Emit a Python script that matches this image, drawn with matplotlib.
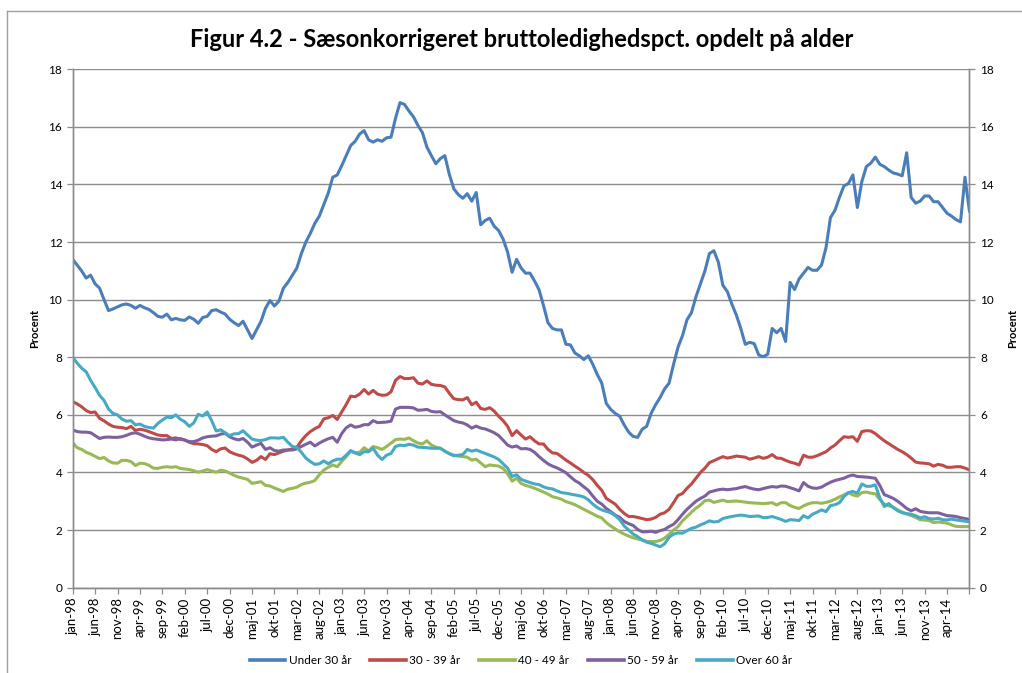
import numpy as np
import matplotlib
matplotlib.use("Agg")
import matplotlib.pyplot as plt
from matplotlib.lines import Line2D

plt.rcParams["font.family"] = ["Lato", "DejaVu Sans"]

TITLE = "Figur 4.2 - Sæsonkorrigeret bruttoledighedspct. opdelt på alder"

# Monthly values, jan-98 .. sep-14 (201 months)
UNDER_30 = [
    11.40, 11.20, 11.00, 10.75, 10.85, 10.55, 10.40, 10.00, 9.62, 9.68,
    9.75, 9.82, 9.85, 9.80, 9.70, 9.80, 9.72, 9.66, 9.55, 9.42,
    9.39, 9.50, 9.30, 9.35, 9.30, 9.28, 9.40, 9.32, 9.18, 9.38,
    9.42, 9.62, 9.65, 9.57, 9.50, 9.32, 9.20, 9.10, 9.25, 8.95,
    8.65, 8.95, 9.25, 9.70, 9.97, 9.78, 9.95, 10.40, 10.60, 10.85,
    11.10, 11.60, 12.00, 12.30, 12.65, 12.90, 13.30, 13.70, 14.25, 14.33,
    14.65, 15.00, 15.35, 15.50, 15.75, 15.87, 15.55, 15.47, 15.55, 15.50,
    15.62, 15.64, 16.30, 16.84, 16.78, 16.55, 16.35, 16.05, 15.80, 15.30,
    15.00, 14.72, 14.90, 15.00, 14.35, 13.85, 13.65, 13.52, 13.68, 13.42,
    13.72, 12.60, 12.75, 12.83, 12.55, 12.40, 12.10, 11.65, 10.95, 11.40,
    11.10, 10.92, 10.92, 10.65, 10.35, 9.80, 9.20, 9.00, 8.95, 8.95,
    8.45, 8.43, 8.15, 8.05, 7.92, 8.05, 7.75, 7.40, 7.10, 6.40,
    6.19, 6.05, 5.95, 5.65, 5.40, 5.25, 5.22, 5.50, 5.60, 6.05,
    6.35, 6.60, 6.90, 7.10, 7.75, 8.35, 8.75, 9.30, 9.55, 10.10,
    10.55, 11.00, 11.60, 11.70, 11.30, 10.50, 10.28, 9.85, 9.47, 9.00,
    8.45, 8.52, 8.47, 8.08, 8.02, 8.10, 9.00, 8.85, 9.00, 8.55,
    10.60, 10.35, 10.72, 10.92, 11.12, 11.02, 11.02, 11.20, 11.80, 12.85,
    13.10, 13.55, 13.95, 14.03, 14.33, 13.20, 14.10, 14.62, 14.74, 14.95,
    14.70, 14.62, 14.50, 14.40, 14.36, 14.30, 15.10, 13.55, 13.35, 13.42,
    13.60, 13.60, 13.40, 13.40, 13.20, 13.00, 12.90, 12.78, 12.70, 14.25,
    13.06,
]

AGE_30_39 = [
    6.46, 6.38, 6.28, 6.15, 6.08, 6.10, 5.88, 5.79, 5.68, 5.60,
    5.57, 5.56, 5.52, 5.60, 5.46, 5.50, 5.47, 5.42, 5.36, 5.30,
    5.28, 5.28, 5.18, 5.20, 5.15, 5.13, 5.05, 5.00, 4.99, 4.97,
    4.93, 4.80, 4.72, 4.82, 4.85, 4.72, 4.65, 4.60, 4.56, 4.47,
    4.35, 4.42, 4.55, 4.45, 4.65, 4.62, 4.68, 4.74, 4.78, 4.81,
    4.87, 5.10, 5.28, 5.42, 5.52, 5.60, 5.86, 5.90, 5.98, 5.84,
    6.10, 6.36, 6.65, 6.63, 6.72, 6.88, 6.72, 6.85, 6.72, 6.68,
    6.69, 6.80, 7.20, 7.33, 7.26, 7.26, 7.29, 7.10, 7.07, 7.18,
    7.06, 7.03, 7.02, 6.97, 6.75, 6.56, 6.53, 6.52, 6.60, 6.35,
    6.44, 6.22, 6.19, 6.25, 6.13, 5.95, 5.80, 5.60, 5.28, 5.45,
    5.30, 5.16, 5.24, 5.10, 4.99, 4.99, 4.80, 4.68, 4.66, 4.55,
    4.43, 4.33, 4.22, 4.12, 4.00, 3.90, 3.75, 3.55, 3.38, 3.10,
    3.00, 2.90, 2.72, 2.58, 2.47, 2.47, 2.44, 2.40, 2.36, 2.38,
    2.44, 2.55, 2.60, 2.72, 2.95, 3.20, 3.27, 3.45, 3.60, 3.80,
    4.00, 4.15, 4.34, 4.41, 4.48, 4.55, 4.50, 4.53, 4.57, 4.55,
    4.53, 4.46, 4.50, 4.55, 4.49, 4.53, 4.62, 4.50, 4.49, 4.42,
    4.36, 4.32, 4.26, 4.60, 4.53, 4.53, 4.58, 4.65, 4.72, 4.85,
    4.95, 5.10, 5.24, 5.22, 5.24, 5.08, 5.42, 5.45, 5.44, 5.35,
    5.22, 5.10, 5.00, 4.90, 4.80, 4.72, 4.62, 4.50, 4.36, 4.33,
    4.32, 4.30, 4.22, 4.28, 4.25, 4.18, 4.18, 4.20, 4.20, 4.15,
    4.09,
]

AGE_40_49 = [
    5.03, 4.86, 4.80, 4.70, 4.64, 4.56, 4.48, 4.52, 4.40, 4.33,
    4.32, 4.42, 4.42, 4.38, 4.24, 4.32, 4.31, 4.25, 4.15, 4.14,
    4.18, 4.20, 4.18, 4.20, 4.14, 4.12, 4.10, 4.06, 4.01, 4.05,
    4.10, 4.05, 4.01, 4.08, 4.05, 3.98, 3.90, 3.84, 3.80, 3.76,
    3.62, 3.65, 3.68, 3.55, 3.53, 3.46, 3.40, 3.34, 3.42, 3.45,
    3.49, 3.58, 3.63, 3.66, 3.72, 3.92, 4.08, 4.18, 4.26, 4.20,
    4.38, 4.55, 4.74, 4.68, 4.70, 4.86, 4.75, 4.90, 4.86, 4.80,
    4.90, 5.02, 5.14, 5.16, 5.15, 5.20, 5.10, 5.02, 4.99, 5.10,
    4.95, 4.88, 4.84, 4.74, 4.66, 4.60, 4.57, 4.55, 4.53, 4.43,
    4.46, 4.33, 4.20, 4.26, 4.24, 4.22, 4.14, 3.95, 3.70, 3.80,
    3.62, 3.55, 3.51, 3.45, 3.39, 3.32, 3.25, 3.16, 3.12, 3.07,
    2.99, 2.94, 2.88, 2.80, 2.72, 2.64, 2.56, 2.48, 2.42, 2.26,
    2.14, 2.04, 1.94, 1.86, 1.79, 1.73, 1.69, 1.65, 1.61, 1.60,
    1.60, 1.64, 1.72, 1.85, 2.00, 2.12, 2.32, 2.47, 2.62, 2.76,
    2.87, 3.02, 3.04, 2.96, 3.00, 3.04, 2.99, 3.00, 3.01, 2.99,
    2.97, 2.95, 2.94, 2.93, 2.92, 2.93, 2.95, 2.87, 2.95, 2.95,
    2.85, 2.79, 2.75, 2.84, 2.91, 2.95, 2.95, 2.93, 2.96, 3.00,
    3.07, 3.15, 3.22, 3.30, 3.22, 3.18, 3.30, 3.32, 3.28, 3.26,
    3.06, 2.90, 2.84, 2.80, 2.70, 2.62, 2.56, 2.50, 2.44, 2.36,
    2.35, 2.33, 2.26, 2.28, 2.26, 2.24, 2.18, 2.13, 2.12, 2.12,
    2.12,
]

AGE_50_59 = [
    5.48, 5.42, 5.40, 5.40, 5.38, 5.28, 5.18, 5.22, 5.23, 5.22,
    5.22, 5.24, 5.29, 5.35, 5.38, 5.33, 5.26, 5.20, 5.17, 5.15,
    5.13, 5.14, 5.16, 5.13, 5.18, 5.12, 5.07, 5.07, 5.12, 5.20,
    5.24, 5.26, 5.27, 5.33, 5.36, 5.24, 5.17, 5.13, 5.18, 5.05,
    4.88, 4.95, 5.01, 4.80, 4.86, 4.76, 4.74, 4.78, 4.78, 4.78,
    4.82, 4.90, 4.98, 5.05, 4.92, 5.02, 5.10, 5.17, 5.22, 5.05,
    5.35, 5.55, 5.65, 5.57, 5.60, 5.66, 5.66, 5.80, 5.73, 5.74,
    5.75, 5.78, 6.20, 6.26, 6.26, 6.26, 6.24, 6.16, 6.17, 6.19,
    6.12, 6.10, 6.11, 6.00, 5.90, 5.80, 5.75, 5.72, 5.65, 5.54,
    5.61, 5.54, 5.51, 5.45, 5.38, 5.28, 5.12, 4.95, 4.88, 4.92,
    4.82, 4.83, 4.80, 4.70, 4.55, 4.42, 4.30, 4.22, 4.16, 4.08,
    3.99, 3.85, 3.72, 3.63, 3.50, 3.38, 3.18, 3.00, 2.90, 2.75,
    2.64, 2.52, 2.44, 2.30, 2.22, 2.16, 2.02, 1.94, 1.94, 1.96,
    1.92, 1.98, 2.02, 2.12, 2.20, 2.36, 2.55, 2.72, 2.86, 3.00,
    3.10, 3.18, 3.32, 3.36, 3.40, 3.42, 3.40, 3.42, 3.44, 3.48,
    3.51, 3.46, 3.42, 3.40, 3.44, 3.48, 3.51, 3.49, 3.53, 3.52,
    3.47, 3.42, 3.36, 3.65, 3.52, 3.46, 3.45, 3.49, 3.58, 3.66,
    3.72, 3.76, 3.80, 3.87, 3.91, 3.86, 3.85, 3.84, 3.82, 3.80,
    3.55, 3.23, 3.17, 3.10, 3.00, 2.88, 2.75, 2.67, 2.74, 2.65,
    2.62, 2.60, 2.60, 2.60, 2.55, 2.50, 2.49, 2.47, 2.43, 2.40,
    2.37,
]

OVER_60 = [
    8.00, 7.80, 7.62, 7.50, 7.20, 6.95, 6.68, 6.50, 6.20, 6.05,
    6.00, 5.85, 5.78, 5.80, 5.65, 5.68, 5.60, 5.56, 5.54, 5.70,
    5.82, 5.92, 5.90, 6.00, 5.85, 5.76, 5.60, 5.72, 6.02, 5.96,
    6.10, 5.80, 5.44, 5.48, 5.38, 5.28, 5.34, 5.35, 5.45, 5.30,
    5.16, 5.12, 5.11, 5.14, 5.20, 5.20, 5.19, 5.22, 5.05, 4.90,
    4.87, 4.70, 4.50, 4.38, 4.28, 4.30, 4.40, 4.30, 4.40, 4.46,
    4.46, 4.60, 4.76, 4.68, 4.62, 4.72, 4.72, 4.84, 4.60, 4.45,
    4.60, 4.66, 4.90, 4.95, 4.93, 4.98, 4.95, 4.88, 4.87, 4.86,
    4.84, 4.84, 4.84, 4.74, 4.65, 4.58, 4.60, 4.62, 4.80, 4.74,
    4.78, 4.72, 4.66, 4.60, 4.54, 4.45, 4.30, 4.15, 3.86, 3.92,
    3.76, 3.70, 3.65, 3.60, 3.58, 3.50, 3.45, 3.43, 3.36, 3.30,
    3.28, 3.25, 3.22, 3.19, 3.15, 3.05, 2.90, 2.78, 2.70, 2.65,
    2.60, 2.50, 2.36, 2.14, 2.00, 1.86, 1.77, 1.66, 1.58, 1.54,
    1.48, 1.42, 1.52, 1.75, 1.86, 1.90, 1.89, 1.98, 2.06, 2.10,
    2.18, 2.24, 2.32, 2.28, 2.30, 2.40, 2.44, 2.47, 2.50, 2.52,
    2.50, 2.47, 2.48, 2.49, 2.43, 2.44, 2.47, 2.42, 2.37, 2.30,
    2.36, 2.35, 2.33, 2.50, 2.42, 2.55, 2.62, 2.70, 2.64, 2.85,
    2.88, 2.95, 3.16, 3.30, 3.34, 3.28, 3.60, 3.52, 3.52, 3.57,
    3.12, 2.82, 2.92, 2.78, 2.67, 2.60, 2.57, 2.55, 2.50, 2.42,
    2.46, 2.40, 2.38, 2.41, 2.36, 2.35, 2.38, 2.35, 2.33, 2.31,
    2.28,
]

SERIES_NAMES = ["Under 30 år", "30 - 39 år", "40 - 49 år", "50 - 59 år", "Over 60 år"]
SERIES_COLORS = ["#4A7EBB", "#BE4B48", "#98B954", "#7D60A0", "#46AAC5"]

# Every 5th month gets a label, the last tick (sep-14) is unlabelled
TICK_LABELS = [
    "jan-98", "jun-98", "nov-98", "apr-99", "sep-99", "feb-00", "jul-00", "dec-00",
    "maj-01", "okt-01", "mar-02", "aug-02", "jan-03", "jun-03", "nov-03", "apr-04",
    "sep-04", "feb-05", "jul-05", "dec-05", "maj-06", "okt-06", "mar-07", "aug-07",
    "jan-08", "jun-08", "nov-08", "apr-09", "sep-09", "feb-10", "jul-10", "dec-10",
    "maj-11", "okt-11", "mar-12", "aug-12", "jan-13", "jun-13", "nov-13", "apr-14", "",
]
TICK_STEP = 5

GRID_GREY = "#8C8C8C"
AXIS_GREY = "#8C8C8C"


def style_axis(ax):
    """Excel-like grey axes with outward tick marks"""
    for side in ["left", "right", "bottom"]:
        ax.spines[side].set_color(AXIS_GREY)
        ax.spines[side].set_linewidth(1.0)
    ax.spines["top"].set_visible(False)
    ax.tick_params(axis="both", direction="out", length=4, width=0.9,
                   color=AXIS_GREY, labelsize=8.5, labelcolor="black")


fig = plt.figure(figsize=(10.22, 6.73), dpi=100)
ax = fig.add_axes([0.0711, 0.1268, 0.8775, 0.7703])

all_series = [UNDER_30, AGE_30_39, AGE_40_49, AGE_50_59, OVER_60]
x = np.arange(len(UNDER_30))

for vals, name, color in zip(all_series, SERIES_NAMES, SERIES_COLORS):
    ax.plot(x, vals, color=color, linewidth=2.2, label=name,
            solid_joinstyle="round", solid_capstyle="round")

ax.set_xlim(0, len(x) - 1)
ax.set_ylim(0, 18)
ax.set_yticks(range(0, 19, 2))
ax.yaxis.grid(True, color=GRID_GREY, linewidth=1.0)
ax.set_axisbelow(True)

ax.set_xticks(np.arange(0, len(x), TICK_STEP))
ax.set_xticklabels(TICK_LABELS, rotation=90)
style_axis(ax)
ax.tick_params(axis="x", labelsize=9.5, pad=3)
ax.set_ylabel("Procent", fontsize=8, fontweight="bold", labelpad=6)

# Second y axis on the right, same scale
ax2 = ax.twinx()
ax2.set_ylim(0, 18)
ax2.set_yticks(range(0, 19, 2))
style_axis(ax2)
ax2.set_ylabel("Procent", fontsize=8, fontweight="bold", labelpad=10)

fig.text(0.51, 0.942, TITLE, ha="center", va="center",
         fontsize=17, fontweight="bold")

handles = [Line2D([0], [0], color=c, linewidth=2.6) for c in SERIES_COLORS]
fig.legend(handles, SERIES_NAMES, loc="center", bbox_to_anchor=(0.51, 0.019),
           ncol=5, frameon=False, fontsize=8.5, handlelength=3.0,
           handletextpad=0.3, columnspacing=1.6)

# Chart area border (top and left edges visible in the reference)
fig.add_artist(Line2D([7 / 1022, 1.0], [1 - 11 / 673, 1 - 11 / 673],
                      transform=fig.transFigure, color="#A0A0A0", linewidth=1.0))
fig.add_artist(Line2D([7 / 1022, 7 / 1022], [0.0, 1 - 11 / 673],
                      transform=fig.transFigure, color="#A0A0A0", linewidth=1.0))

fig.savefig("out.png", dpi=100)
